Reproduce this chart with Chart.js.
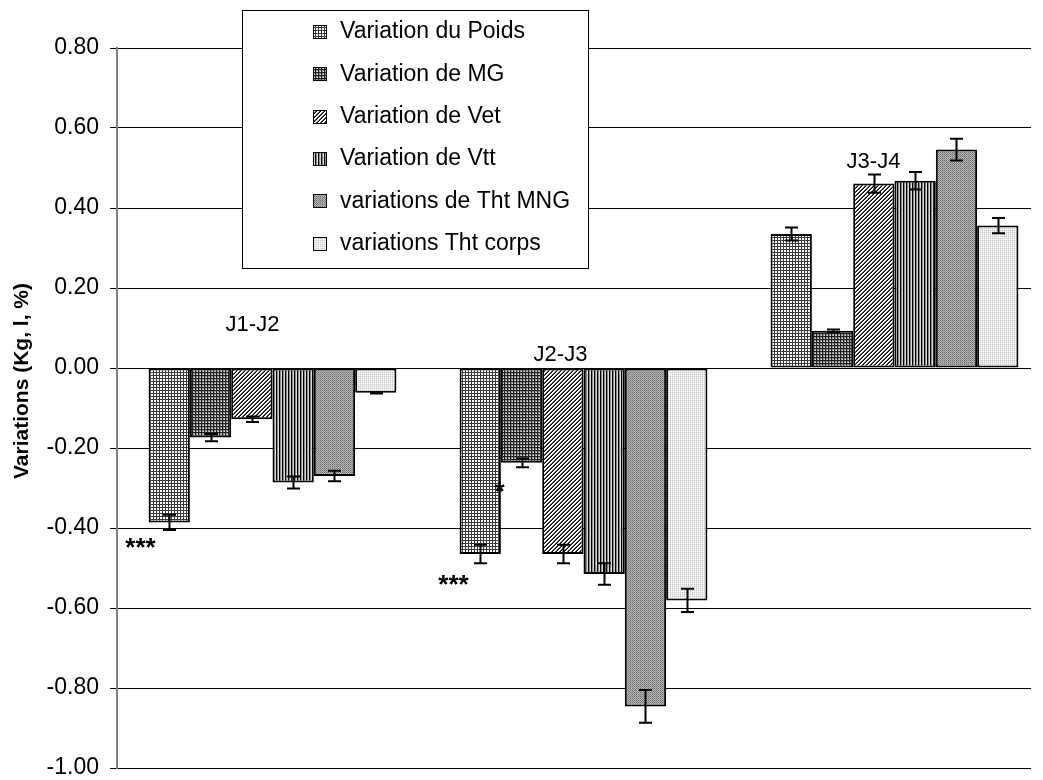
<!DOCTYPE html>
<html>
<head>
<meta charset="utf-8">
<script src="https://cdn.jsdelivr.net/npm/chart.js@4.4.1/dist/chart.umd.min.js"></script>
<style>
  html, body { margin: 0; padding: 0; background: #fff; overflow: hidden; }
  #wrap { width: 1043px; height: 780px; overflow: hidden; }
</style>
</head>
<body>
<div id="wrap"><canvas id="graf" width="1050" height="780"></canvas></div>
<script>
// ===== données =====
const categories = ["J1-J2", "J2-J3", "J3-J4"];
const seriesLabels = [
    "Variation du Poids",
    "Variation de MG",
    "Variation de Vet",
    "Variation de Vtt",
    "variations de Tht MNG",
    "variations Tht corps"
];
const poids = [-0.386, -0.465, 0.335];
const mg    = [-0.174, -0.237, 0.093];
const vet   = [-0.128, -0.465, 0.461];
const vtt   = [-0.286, -0.515, 0.468];
const mng   = [-0.270, -0.846, 0.546];
const corps = [-0.062, -0.581, 0.356];

const poidsErr = [0.019, 0.023, 0.016];
const mgErr    = [0.009, 0.011, 0.003];
const vetErr   = [0.007, 0.023, 0.023];
const vttErr   = [0.015, 0.027, 0.022];
const mngErr   = [0.013, 0.041, 0.027];
const corpsErr = [0.002, 0.029, 0.019];

const yMin = -1.0, yMax = 0.8, yStep = 0.2;
const titreY = "Variations (Kg, l, %)";

const police = "'Liberation Sans', Arial, sans-serif";
const finGrille = 1030; // bord droit des lignes de grille

// ===== motifs (hachures façon Excel) =====
function motif(w, h, dessin) {
    const c = document.createElement("canvas");
    c.width = w; c.height = h;
    const g = c.getContext("2d");
    dessin(g);
    return document.createElement("canvas").getContext("2d").createPattern(c, "repeat");
}
function px(g, x, y, col) { g.fillStyle = col; g.fillRect(x, y, 1, 1); }

const motifs = [
    // grille fine
    motif(3, 3, g => { g.fillStyle = "#fff"; g.fillRect(0, 0, 3, 3); g.fillStyle = "#3a3a3a"; g.fillRect(0, 0, 3, 1); g.fillRect(0, 0, 1, 3); }),
    // grille sombre
    motif(3, 3, g => { g.fillStyle = "#9a9a9a"; g.fillRect(0, 0, 3, 3); g.fillStyle = "#202020"; g.fillRect(0, 0, 3, 1); g.fillRect(0, 0, 1, 3); px(g, 2, 2, "#e0e0e0"); }),
    // diagonales
    motif(4, 4, g => { g.fillStyle = "#fff"; g.fillRect(0, 0, 4, 4); for (let i = 0; i < 4; i++) { px(g, 3 - i, i, "#000"); px(g, (6 - i) % 4, i, "#555"); } }),
    // rayures verticales
    motif(3, 1, g => { px(g, 0, 0, "#000"); px(g, 1, 0, "#8a8a8a"); px(g, 2, 0, "#d8d8d8"); }),
    // pointillé moyen
    motif(2, 2, g => { g.fillStyle = "#b4b4b4"; g.fillRect(0, 0, 2, 2); px(g, 0, 0, "#6e6e6e"); px(g, 1, 1, "#8c8c8c"); }),
    // pointillé clair
    motif(2, 2, g => { g.fillStyle = "#ececec"; g.fillRect(0, 0, 2, 2); px(g, 0, 0, "#c4c4c4"); px(g, 1, 1, "#f8f8f8"); })
];

const valeurs = [poids, mg, vet, vtt, mng, corps];
const erreurs = [poidsErr, mgErr, vetErr, vttErr, mngErr, corpsErr];

// ===== coupe la grille à droite, comme dans Excel =====
const pluginGrille = {
    id: "coupeGrille",
    beforeDatasetsDraw(chart) {
        const ctx = chart.ctx;
        ctx.save();
        ctx.fillStyle = "#fff";
        ctx.fillRect(finGrille + 1, 0, chart.width - finGrille, chart.height);
        ctx.restore();
    }
};

// ===== barres d'erreur =====
const pluginErreurs = {
    id: "barresErreur",
    afterDatasetsDraw(chart) {
        const ctx = chart.ctx;
        const y = chart.scales.y;
        ctx.save();
        ctx.strokeStyle = "#000";
        ctx.lineWidth = 2;
        chart.data.datasets.forEach((ds, i) => {
            const meta = chart.getDatasetMeta(i);
            meta.data.forEach((barre, j) => {
                const v = ds.data[j], e = ds.erreurs[j];
                const y1 = y.getPixelForValue(v - e), y2 = y.getPixelForValue(v + e);
                const x = Math.round(barre.x) + 0.5;
                ctx.beginPath();
                ctx.moveTo(x, y1); ctx.lineTo(x, y2);
                ctx.moveTo(x - 6.5, y1); ctx.lineTo(x + 6.5, y1);
                ctx.moveTo(x - 6.5, y2); ctx.lineTo(x + 6.5, y2);
                ctx.stroke();
            });
        });
        ctx.restore();
    }
};

// ===== légende + étiquettes =====
const pluginTextes = {
    id: "textes",
    afterDraw(chart) {
        const ctx = chart.ctx;
        const x = chart.scales.x;
        ctx.save();
        ctx.fillStyle = "#000";
        // titre de l'axe Y
        ctx.save();
        ctx.translate(22, 381);
        ctx.rotate(-Math.PI / 2);
        ctx.font = "bold 21px " + police;
        ctx.textAlign = "center";
        ctx.textBaseline = "middle";
        ctx.fillText(titreY, 0, 0);
        ctx.restore();

        ctx.font = "22px " + police;
        ctx.textAlign = "center";
        ctx.textBaseline = "middle";
        // noms des périodes
        ctx.fillText(categories[0], x.getPixelForValue(0) - 20, 325);
        ctx.fillText(categories[1], x.getPixelForValue(1) - 23, 355);
        ctx.fillText(categories[2], x.getPixelForValue(2) - 21, 162);
        // significativité
        ctx.font = "bold 26px " + police;
        ctx.fillText("***", x.getPixelForValue(0) - 132, 549);
        ctx.fillText("***", x.getPixelForValue(1) - 130, 586);
        ctx.fillText("*", x.getPixelForValue(1) - 84, 493);

        // légende
        const lx = 242, ly = 10, lw = 346, lh = 258;
        ctx.fillStyle = "#fff";
        ctx.fillRect(lx, ly, lw, lh);
        ctx.strokeStyle = "#000";
        ctx.lineWidth = 1;
        ctx.strokeRect(lx + 0.5, ly + 0.5, lw, lh);
        ctx.font = "23px " + police;
        ctx.textAlign = "left";
        seriesLabels.forEach((lab, i) => {
            const cy = 32 + i * 42.3;
            ctx.fillStyle = motifs[i];
            ctx.fillRect(313, Math.round(cy) - 7, 14, 14);
            ctx.strokeStyle = "#000";
            ctx.strokeRect(313.5, Math.round(cy) - 6.5, 13, 13);
            ctx.fillStyle = "#000";
            ctx.fillText(lab, 340, cy);
        });
        ctx.restore();
    }
};

new Chart(document.getElementById("graf"), {
    type: "bar",
    data: {
        labels: categories,
        datasets: seriesLabels.map((lab, i) => ({
            label: lab,
            data: valeurs[i],
            erreurs: erreurs[i],
            backgroundColor: motifs[i],
            borderColor: "#000",
            borderWidth: 2,
            borderSkipped: false,
            barPercentage: 1.0,
            categoryPercentage: 0.797
        }))
    },
    options: {
        responsive: false,
        animation: false,
        devicePixelRatio: 1,
        layout: { padding: { left: 0, top: 48, right: 0, bottom: 12 } },
        plugins: {
            legend: { display: false },
            tooltip: { enabled: false }
        },
        scales: {
            x: { display: false },
            y: {
                min: yMin,
                max: yMax,
                afterFit(s) { s.width = 117; s.paddingTop = 0; s.paddingBottom = 0; },
                ticks: {
                    stepSize: yStep,
                    padding: 11,
                    color: "#000",
                    font: { family: police, size: 23 },
                    callback: v => Number(v).toFixed(2)
                },
                grid: { color: "#000", lineWidth: 1, tickLength: 7, tickColor: "#000" },
                border: { color: "#808080", width: 2 }
            }
        }
    },
    plugins: [pluginGrille, pluginErreurs, pluginTextes]
});
</script>
</body>
</html>
